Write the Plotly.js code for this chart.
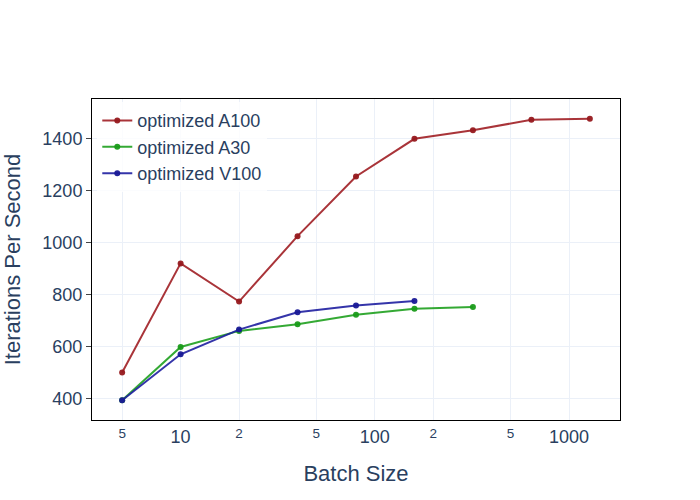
<!DOCTYPE html>
<html>
<head>
<meta charset="utf-8">
<script src="https://cdn.plot.ly/plotly-3.0.1.min.js"></script>
<style>body{margin:0;} #chart{width:700px;height:500px;}</style>
</head>
<body>
<div id="chart"></div>
<script>
// batch sizes and throughput per GPU
var batchA100 = [5, 10, 20, 40, 80, 160, 320, 640, 1280];
var itersA100 = [500, 920, 773, 1025, 1255, 1400, 1433, 1473, 1477];

var batchA30 = [5, 10, 20, 40, 80, 160, 320];
var itersA30 = [393, 598, 660, 686, 722, 745, 752];

var batchV100 = [5, 10, 20, 40, 80, 160];
var itersV100 = [393, 570, 665, 732, 758, 775];

function makeTrace(x, y, name, lineColor, markerColor) {
  return {
    x: x,
    y: y,
    name: name,
    type: 'scatter',
    mode: 'lines+markers',
    line: {color: lineColor, width: 2},
    marker: {color: markerColor, size: 6}
  };
}

var data = [
  makeTrace(batchA100, itersA100, 'optimized A100', 'rgba(160,30,35,0.9)', 'rgba(150,25,30,0.95)'),
  makeTrace(batchA30, itersA30, 'optimized A30', 'rgba(30,160,30,0.9)', 'rgba(25,155,25,0.95)'),
  makeTrace(batchV100, itersV100, 'optimized V100', 'rgba(30,30,160,0.9)', 'rgba(25,25,150,0.95)')
];

var layout = {
  width: 700,
  height: 500,
  template: 'plotly_white',
  plot_bgcolor: 'white',
  paper_bgcolor: 'white',
  font: {family: 'Arial, Liberation Sans, sans-serif', color: '#2a3f5f', size: 18},
  margin: {l: 92, r: 80, t: 99, b: 80},
  xaxis: {
    type: 'log',
    title: {text: 'Batch Size', font: {size: 22}, standoff: 20},
    dtick: 'D2',
    showline: true, linecolor: 'black', linewidth: 1, mirror: true,
    gridcolor: '#EBF0F8',
    zeroline: false
  },
  yaxis: {
    title: {text: 'Iterations Per Second', font: {size: 22}, standoff: 20},
    showline: true, linecolor: 'black', linewidth: 1, mirror: true,
    ticks: 'outside', tickcolor: '#444', ticklen: 5,
    gridcolor: '#EBF0F8',
    zeroline: false
  },
  legend: {
    x: 0.01, y: 0.99, xanchor: 'left', yanchor: 'top',
    bgcolor: 'rgba(255,255,255,0.8)',
    font: {size: 18}
  }
};

Plotly.newPlot('chart', data, layout, {displayModeBar: false});
</script>
</body>
</html>
